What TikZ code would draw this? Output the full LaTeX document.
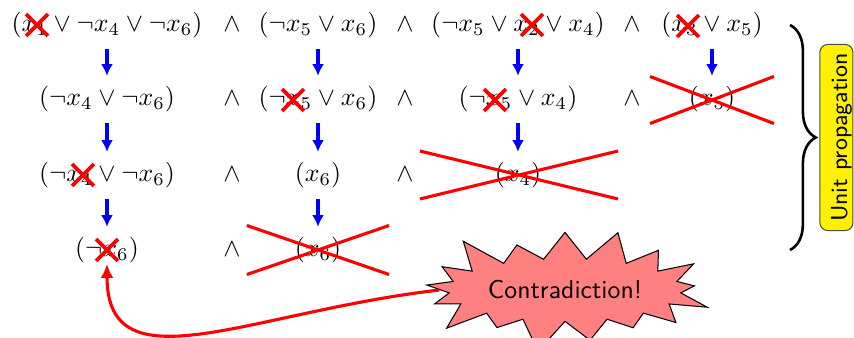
\documentclass[tikz,border=0pt]{standalone}
\usetikzlibrary{arrows.meta,shapes.misc,shapes.symbols,decorations.pathreplacing}
\begin{document}
\begin{tikzpicture}[x=0.3876pt,y=-0.3876pt,
  cl/.style={inner sep=4pt, anchor=base},
  prop/.style={draw=blue, line width=1.2pt, -{Latex[length=4.5pt,width=4.6pt]}},
  smallx/.style={cross out, draw=red, line width=1.5pt, inner sep=0pt, minimum size=7pt},
  bigx/.style={cross out, draw=red, line width=1.2pt, inner sep=0pt},
]
\useasboundingbox (0,0) rectangle (854,338);
% row 1
\node[cl] (a1) at (107,32) {$(x_1 \vee \neg x_4 \vee \neg x_6)$};
\node[cl] (w11) at (232,32) {$\wedge$};
\node[cl] (b1) at (318,32) {$(\neg x_5 \vee x_6)$};
\node[cl] (w12) at (405,32) {$\wedge$};
\node[cl] (c1) at (518,32) {$(\neg x_5 \vee x_2 \vee x_4)$};
\node[cl] (w13) at (632,32) {$\wedge$};
\node[cl] (d1) at (712,32) {$(x_3 \vee x_5)$};
% row 2
\node[cl] (a2) at (107,106) {$(\neg x_4 \vee \neg x_6)$};
\node[cl] (w21) at (232,106) {$\wedge$};
\node[cl] (b2) at (318,106) {$(\neg x_5 \vee x_6)$};
\node[cl] (w22) at (405,106) {$\wedge$};
\node[cl] (c2) at (518,106) {$(\neg x_5 \vee x_4)$};
\node[cl] (w23) at (632,106) {$\wedge$};
\node[cl] (d2) at (712,106) {$(x_5)$};
% row 3
\node[cl] (a3) at (107,182) {$(\neg x_4 \vee \neg x_6)$};
\node[cl] (w31) at (232,182) {$\wedge$};
\node[cl] (b3) at (318,182) {$(x_6)$};
\node[cl] (w32) at (405,182) {$\wedge$};
\node[cl] (c3) at (518,182) {$(x_4)$};
% row 4
\node[cl] (a4) at (107,257) {$(\neg x_6)$};
\node[cl] (w41) at (232,257) {$\wedge$};
\node[cl] (b4) at (318,257) {$(x_6)$};
% propagation arrows
\draw[prop] (a1.south) -- (a2.north);
\draw[prop] (b1.south) -- (b2.north);
\draw[prop] (c1.south) -- (c2.north);
\draw[prop] (d1.south) -- (d2.north);
\draw[prop] (a2.south) -- (a3.north);
\draw[prop] (b2.south) -- (b3.north);
\draw[prop] (c2.south) -- (c3.north);
\draw[prop] (a3.south) -- (a4.north);
\draw[prop] (b3.south) -- (b4.north);
% small crosses
\node[smallx] (x11) at (37,25) {};
\node[smallx] (x13) at (532,25) {};
\node[smallx] (x14) at (688,26) {};
\node[smallx] (x22) at (293,100) {};
\node[smallx] (x23) at (495,100) {};
\node[smallx] (x31) at (83,175) {};
\node[smallx] (x41) at (107,250) {};
% big crosses
\node[bigx, minimum width=46.9pt, minimum height=17.05pt] (X24) at (712,100) {};
\node[bigx, minimum width=75.6pt, minimum height=17.4pt] (X33) at (519,175) {};
\node[bigx, minimum width=53.9pt, minimum height=17.8pt] (X42) at (318,250) {};
% brace and label
\coordinate (bt) at (790,25);
\coordinate (bb) at (790,250);
\draw[decorate, decoration={brace, amplitude=10pt}, line width=1pt] (bt) -- (bb);
\node[draw=black!70, fill=yellow, rounded corners=3pt, rotate=90, anchor=base,
      inner xsep=3.4pt, inner ysep=1pt, text height=9.5pt, text depth=1.3pt,
      font=\sffamily\small] (up) at (847,137.5) {Unit propagation};
% contradiction
\node[starburst, draw=black, fill=red!50, font=\sffamily, inner xsep=2pt, inner ysep=5pt,
      minimum width=106pt] (contra) at (565,290) {Contradiction!};
\draw[red, line width=1.2pt, -{Latex[length=5.4pt,width=5pt]}, shorten >=-4pt] (contra.west)
  .. controls +(-190,22) and +(0,115) .. (a4.south);
\end{tikzpicture}
\end{document}
